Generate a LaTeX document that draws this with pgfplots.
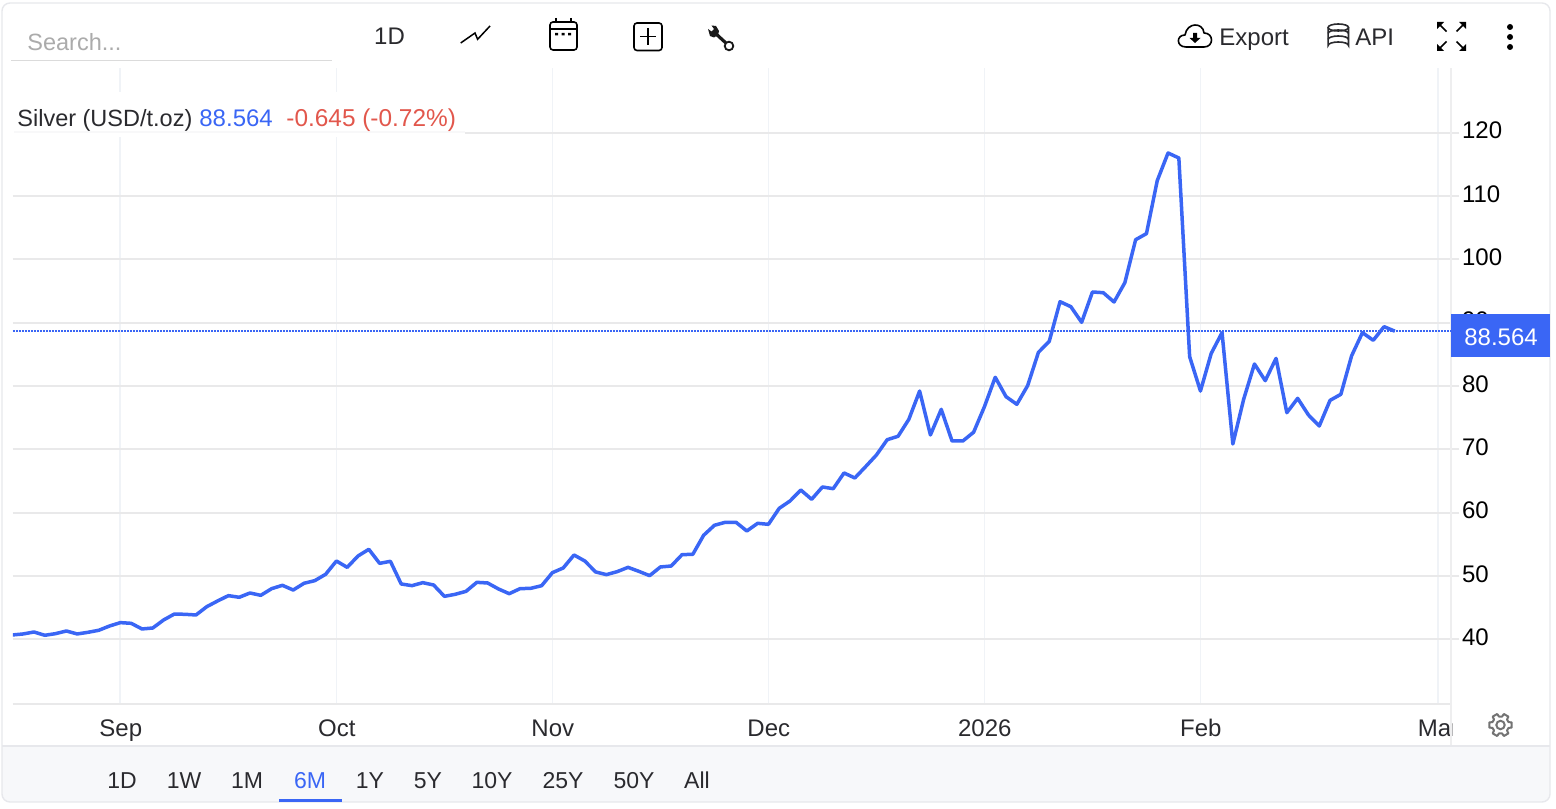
\documentclass[border=0pt]{standalone}
\usepackage{pgfplots}
\usepackage{fontspec}
\pgfplotsset{compat=1.18}
\setmainfont{Liberation Sans}
\definecolor{lineblue}{HTML}{3A66F5}
\definecolor{redtxt}{HTML}{E2574C}
\definecolor{darktxt}{HTML}{2A2A2E}
\definecolor{gridh}{HTML}{E9E9EA}
\definecolor{gridv}{HTML}{F0F3F7}
\definecolor{axisv}{HTML}{EEEEEF}
\definecolor{framec}{HTML}{E7E8EC}
\definecolor{barbg}{HTML}{F7F8FA}
\newcommand{\fa}{\fontsize{12}{14}\selectfont}
\newcommand{\fb}{\fontsize{11.75}{14}\selectfont}
\newcommand{\fc}{\fontsize{11.5}{14}\selectfont}
\pgfplotstableread{
k v
-10 40.68
-9 40.84
-8 41.15
-7 40.63
-6 40.89
-5 41.31
-4 40.84
-3 41.10
-2 41.42
-1 42.10
0 42.63
1 42.52
2 41.63
3 41.78
4 43.05
5 43.99
6 43.94
7 43.84
8 45.15
9 46.05
10 46.89
11 46.63
12 47.31
13 46.94
14 47.99
15 48.52
16 47.78
17 48.84
18 49.26
19 50.26
20 52.36
21 51.36
22 53.15
23 54.21
24 51.99
25 52.31
26 48.73
27 48.47
28 48.94
29 48.57
30 46.78
31 47.10
32 47.57
33 48.99
34 48.89
35 47.95
36 47.20
37 47.99
38 48.05
39 48.46
40 50.52
41 51.26
42 53.31
43 52.36
44 50.63
45 50.21
46 50.68
47 51.36
48 50.73
49 50.05
50 51.42
51 51.57
52 53.36
53 53.42
54 56.42
55 58.00
56 58.47
57 58.47
58 57.10
59 58.31
60 58.15
61 60.68
62 61.84
63 63.57
64 62.10
65 64.05
66 63.78
67 66.26
68 65.47
69 67.26
70 69.10
71 71.52
72 72.05
73 74.73
74 79.20
75 72.26
76 76.31
77 71.31
78 71.31
79 72.70
80 76.73
81 81.37
82 78.31
83 77.10
84 80.05
85 85.31
86 87.05
87 93.31
88 92.52
89 90.05
90 94.84
91 94.73
92 93.26
93 96.31
94 103.10
95 104.05
96 112.42
97 116.79
98 116.00
99 84.63
100 79.20
101 85.15
102 88.42
103 70.84
104 77.89
105 83.47
106 80.84
107 84.36
108 75.78
109 78.05
110 75.42
111 73.68
112 77.73
113 78.68
114 84.78
115 88.42
116 87.21
117 89.36
118 88.65
}\silver
\begin{document}
\begin{tikzpicture}
\path[use as bounding box] (0,0) rectangle (778pt,404pt);
% ---------- chrome behind the plot
\begin{scope}[x=0.5pt,y=-0.5pt,shift={(0,404pt)}]
\fill[white] (0,0) rectangle (1556,808);
\begin{scope}
\clip[rounded corners=4pt] (2,3) rectangle (1550,802);
\fill[barbg] (2,746) rectangle (1550,802);
\end{scope}
\draw[framec,line width=0.7pt,rounded corners=4pt] (2,3) rectangle (1550,802);
\draw[framec,line width=0.7pt] (2,746) -- (1550,746);
\end{scope}
% ---------- the chart
\begin{axis}[
  at={(6.5pt,52pt)},anchor=south west,
  scale only axis,width=719pt,height=318pt,
  xmin=-9.944,xmax=123.2,ymin=29.78,ymax=130.21,
  axis x line*=bottom,axis y line*=right,
  x axis line style={draw=gridh,line width=1.2pt},
  y axis line style={draw=axisv,line width=1.2pt},
  xtick={0,20,40,60,80,100,122},
  xticklabels={Sep,Oct,Nov,Dec,2026,Feb,Mar},
  ytick={40,50,60,70,80,90,100,110,120},
  tick align=outside,
  major tick length=4pt,
  xtick style={draw=none},
  ytick style={draw=gridh,line width=1pt},
  xmajorgrids,ymajorgrids,
  x grid style={gridv,line width=0.9pt},
  y grid style={gridh,line width=1pt},
  /pgf/number format/assume math mode=true,
  tick label style={font=\fa,text=darktxt},
  yticklabel style={anchor=west,xshift=-2pt,yshift=1pt,text=black},
  xticklabel style={anchor=base,xshift=0.2pt,yshift=-12pt},
  axis on top=false,
]
\addplot[draw=lineblue,line width=0.75pt,dash pattern=on 1pt off 0.5pt,forget plot] coordinates {(-9.944,88.65)(123.2,88.65)};
\addplot[lineblue,line width=1.75pt,line join=round] table[x=k,y=v] {\silver};
\end{axis}
% ---------- overlay
\begin{scope}[x=0.5pt,y=-0.5pt,shift={(0,404pt)}]
% legend box
\fill[white] (10,92) rectangle (465,137);
\draw[gridh!30,line width=0.6pt] (14,132) -- (465,132);
\node[anchor=base west,inner sep=0,font=\fb,text=darktxt] at (17,126.5) {Silver (USD/t.oz)};
\node[anchor=base west,inner sep=0,font=\fa,text=lineblue] at (199,126.5) {88.564};
\node[anchor=base west,inner sep=0,font=\fontsize{12.2}{14}\selectfont,text=redtxt] at (286,126.5) {-0.645 (-0.72\%)};
% mask right of the plot, below it
\fill[white] (1452.5,712) rectangle (1549,745);
\draw[axisv,line width=1.2pt] (1451,704) -- (1451,745);
% price tag
\fill[lineblue] (1451,314) rectangle (1550,357);
\node[font=\fa,text=white,inner sep=0,anchor=base] at (1501,346) {88.564};
% search
\node[anchor=base west,inner sep=0,font=\fb,text=black!33] at (27,51) {Search...};
\draw[black!14,line width=0.6pt] (11,60.5) -- (332,60.5);
\node[anchor=base,inner sep=0,font=\fa,text=darktxt] at (389.5,45) {1D};
% line icon
\draw[black,line width=0.75pt,line join=miter] (460.7,43) -- (475,33) -- (477.6,39.3) -- (490,26);
% calendar
\draw[black,line width=0.8pt,rounded corners=1.5pt] (550,22) rectangle (577,50);
\draw[black,line width=0.8pt] (550,29) -- (577,29) (556,18) -- (556,22) (571,18) -- (571,22);
\fill[black] (555,33) rectangle (558,35.5) (561.5,33) rectangle (564.5,35.5) (568,33) rectangle (571,35.5);
% plus box
\draw[black,line width=0.8pt,rounded corners=1.5pt] (634,23) rectangle (662,50.5);
\draw[black,line width=0.6pt] (648,28) -- (648,45) (640,36.5) -- (656,36.5);
% wrench
\fill[black!90,line join=round] (708,29) -- (711.5,31.5) -- (714,29) -- (711.5,25.5) -- (716,26) -- (719,31) -- (718,35) -- (714,37.5) -- (710,36) -- cycle;
\draw[black!90,line width=1.6pt] (715,33) -- (727,44);
\draw[black!90,line width=0.9pt,fill=white] (729,46) circle (4.3);
% cloud icon
\draw[black,line width=0.8pt,fill=white,line join=round]
  (1186,47) .. controls (1176,47) and (1176,35) .. (1185,35)
  .. controls (1187,22) and (1203,22) .. (1204,33)
  .. controls (1214,33) and (1214,47) .. (1204,47) -- cycle;
\fill[black] (1193,33) rectangle (1197,38) (1189.5,38) -- (1200.5,38) -- (1195,43) -- cycle;
\node[anchor=base west,inner sep=0,font=\fa,text=darktxt] at (1219,46) {Export};
% database icon
\draw[darktxt,line width=0.8pt] (1338.3,27.5) ellipse [x radius=10.2,y radius=3.5];
\draw[darktxt,line width=0.8pt] (1328.1,27.5) -- (1328.1,45.5) arc[start angle=180,end angle=360,x radius=10.2,y radius=3.5] -- (1348.5,27.5);
\draw[darktxt,line width=0.8pt] (1328.1,33.5) arc[start angle=180,end angle=360,x radius=10.2,y radius=3.5];
\draw[darktxt,line width=0.8pt] (1328.1,39.5) arc[start angle=180,end angle=360,x radius=10.2,y radius=3.5];
\node[anchor=base west,inner sep=0,font=\fa,text=darktxt] at (1355,46) {API};
% fullscreen arrows
\foreach \cx/\cy/\sx/\sy in {1437/22/1/1,1466/22/-1/1,1437/51/1/-1,1466/51/-1/-1}{
  \fill[black] (\cx,\cy) -- ++(7*\sx,0) -- ++(-7*\sx,7*\sy) -- cycle;
  \draw[black,line width=0.8pt] (\cx+3*\sx,\cy+3*\sy) -- (\cx+9.5*\sx,\cy+9.5*\sy);
}
% menu dots
\fill[black] (1510,27) circle (3) (1510,37) circle (3) (1510,47) circle (3);
% gear
\begin{scope}[shift={(1500.5,725)}]
\draw[black!55,line width=1pt,line join=round]
 (0:11) \foreach \a in {0,60,...,300}{
   -- ({\a+13}:11.5) -- ({\a+20}:8.5) -- ({\a+40}:8.5) -- ({\a+47}:11.5) -- ({\a+60-13}:11.5)
 } -- cycle;
\draw[black!55,line width=1pt] (0,0) circle (4.2);
\end{scope}
% range bar
\foreach \c/\t in {122/1D,184/1W,247/1M,370/1Y,428/5Y,492/10Y,563/25Y,634/50Y,697/All}{
  \node[anchor=base,inner sep=0,font=\fc,text=darktxt] at (\c,788) {\t};
}
\node[anchor=base,inner sep=0,font=\fc,text=lineblue] at (310,788) {6M};
\fill[lineblue] (279,799) rectangle (342,801.5);
\end{scope}
\end{tikzpicture}
\end{document}
